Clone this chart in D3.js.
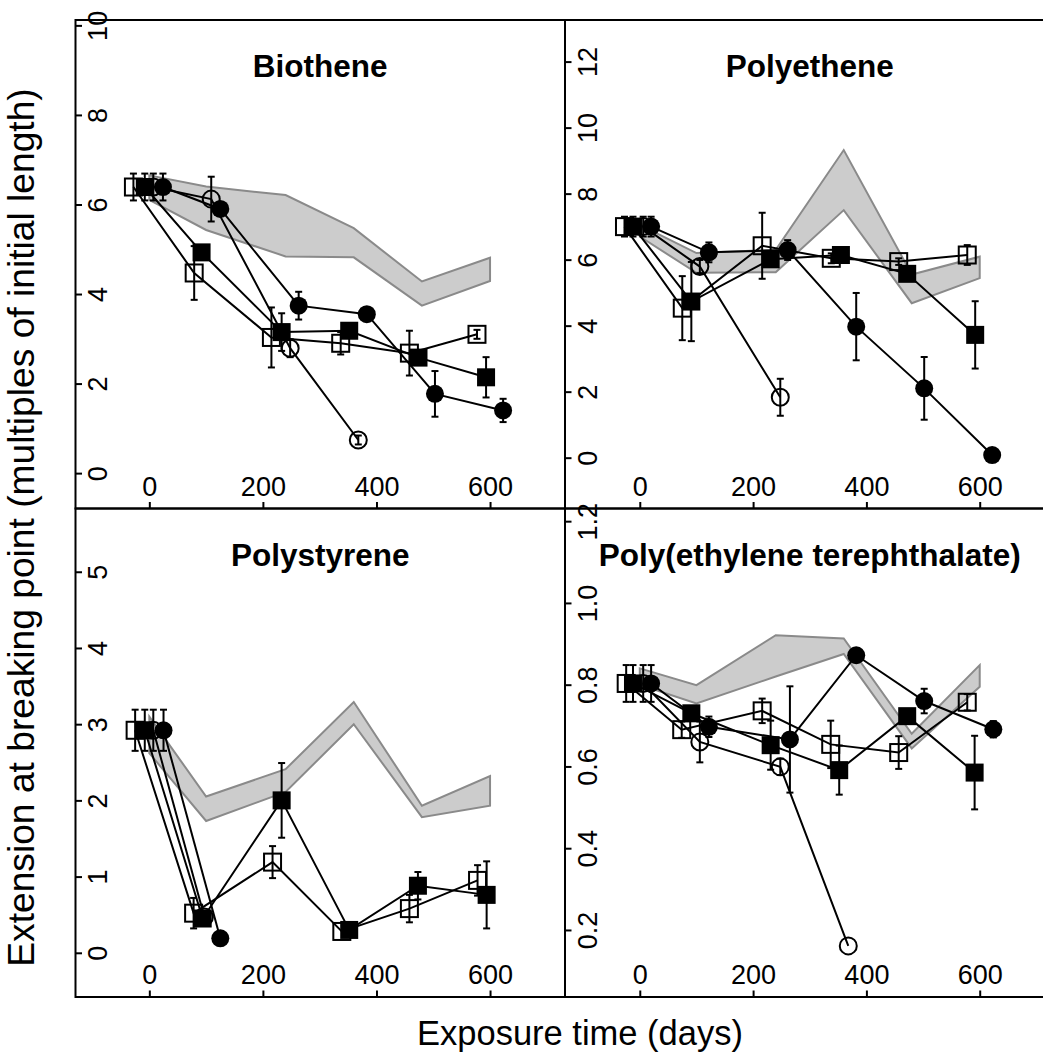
<!DOCTYPE html>
<html><head><meta charset="utf-8">
<script src="https://cdn.jsdelivr.net/npm/d3@7"></script>
<style>
body{margin:0;background:#fff;}
svg{display:block;font-family:"Liberation Sans",Arial,Helvetica,sans-serif;}
</style>
</head><body><svg id="c" width="1043" height="1062"></svg>
<script>
// ---------- data ----------
const panelTitles = ["Biothene", "Polyethene", "Polystyrene", "Poly(ethylene terephthalate)"];
const xTicks = [0, 200, 400, 600];
const bandTimes = [0, 100, 240, 360, 480, 600];
const seriesMarkers = ["openSquare", "filledSquare", "openCircle", "filledCircle"];

// each point: [exposure time (days), value, error half-width]
const bioOpenSquare   = [[-28,6.39,0.3],[79,4.47,0.6],[215,3.03,0.67],[337,2.90,0.25],[458,2.68,0.5],[577,3.10,0.1]];
const bioFilledSquare = [[-8,6.39,0.3],[92,4.93,0],[233,3.15,0.42],[352,3.18,0],[474,2.58,0],[593,2.14,0.45]];
const bioOpenCircle   = [[7,6.39,0.3],[109,6.12,0.5],[248,2.79,0.2],[368,0.74,0.1]];
const bioFilledCircle = [[24,6.39,0.3],[125,5.90,0],[263,3.74,0.31],[383,3.55,0],[503,1.77,0.51],[623,1.40,0.26]];
const bioBandUpper = [6.65,6.40,6.21,5.47,4.28,4.81];
const bioBandLower = [6.10,5.43,4.84,4.82,3.74,4.29];
const bioYTicks = [0,2,4,6,8,10];

const peOpenSquare   = [[-27,7.0,0.3],[75,4.53,0.97],[216,6.42,1.0],[338,6.04,0.15],[457,5.94,0.1],[578,6.14,0.3]];
const peFilledSquare = [[-12,7.0,0.3],[91,4.73,1.2],[231,6.01,0],[355,6.14,0.1],[472,5.57,0.2],[592,3.72,1.02]];
const peOpenCircle   = [[6,7.0,0.3],[106,5.79,0.2],[248,1.83,0.56]];
const peFilledCircle = [[20,7.0,0.3],[122,6.22,0.3],[261,6.29,0.3],[382,3.97,1.02],[502,2.10,0.95],[622,0.08,0]];
const peBandUpper = [7.05,6.20,6.30,9.32,5.55,6.09];
const peBandLower = [6.70,5.60,5.62,7.50,4.68,5.44];
const peYTicks = [0,2,4,6,8,10,12];

const psOpenSquare   = [[-25,2.92,0.27],[78,0.52,0.2],[217,1.19,0.21],[339,0.28,0],[458,0.58,0.18],[578,0.95,0.2]];
const psFilledSquare = [[-8,2.92,0.27],[94,0.45,0],[233,2.00,0.49],[352,0.30,0],[473,0.88,0.18],[594,0.76,0.44]];
const psOpenCircle   = [[7,2.92,0.27],[97,0.47,0]];
const psFilledCircle = [[25,2.92,0.27],[125,0.19,0]];
const psBandUpper = [3.10,2.05,2.41,3.29,1.93,2.32];
const psBandLower = [2.62,1.73,2.11,3.00,1.78,1.93];
const psYTicks = [0,1,2,3,4,5];

const petOpenSquare   = [[-24,0.803,0.045],[74,0.690,0.02],[216,0.736,0.03],[337,0.654,0.058],[457,0.634,0.04],[578,0.757,0.02]];
const petFilledSquare = [[-12,0.803,0.045],[91,0.730,0],[231,0.652,0.06],[352,0.591,0.06],[472,0.723,0],[591,0.585,0.09]];
const petOpenCircle   = [[6,0.803,0.045],[106,0.660,0.05],[248,0.599,0.02],[368,0.161,0]];
const petFilledCircle = [[20,0.803,0.045],[122,0.697,0.025],[265,0.666,0.13],[382,0.872,0],[502,0.760,0.03],[624,0.691,0.02]];
const petBandUpper = [0.840,0.799,0.921,0.913,0.680,0.848];
const petBandLower = [0.800,0.754,0.820,0.875,0.644,0.795];
const petYTicks = [0.2,0.4,0.6,0.8,1.0,1.2];

const xTitle = "Exposure time (days)";
const yTitle = "Extension at breaking point (multiples of initial length)";

// ---------- layout ----------
const L = 75.5, M = 565, R = 1054.5, T = 20, H = 508.5, B = 997;
const panels = [
  {title: panelTitles[0], series: [bioOpenSquare, bioFilledSquare, bioOpenCircle, bioFilledCircle],
   upper: bioBandUpper, lower: bioBandLower, yTicks: bioYTicks, fmt: d3.format("d"),
   x0: L, x1: M, y0: T, y1: H, xDomain: [-130, 732], yDomain: [-0.79, 10.12]},
  {title: panelTitles[1], series: [peOpenSquare, peFilledSquare, peOpenCircle, peFilledCircle],
   upper: peBandUpper, lower: peBandLower, yTicks: peYTicks, fmt: d3.format("d"),
   x0: M, x1: R, y0: T, y1: H, xDomain: [-132, 732], yDomain: [-1.54, 13.26]},
  {title: panelTitles[2], series: [psOpenSquare, psFilledSquare, psOpenCircle, psFilledCircle],
   upper: psBandUpper, lower: psBandLower, yTicks: psYTicks, fmt: d3.format("d"),
   x0: L, x1: M, y0: H, y1: B, xDomain: [-130, 732], yDomain: [-0.58, 5.83]},
  {title: panelTitles[3], series: [petOpenSquare, petFilledSquare, petOpenCircle, petFilledCircle],
   upper: petBandUpper, lower: petBandLower, yTicks: petYTicks, fmt: d3.format(".1f"),
   x0: M, x1: R, y0: H, y1: B, xDomain: [-132, 732], yDomain: [0.036, 1.231]}
];

const svg = d3.select("#c");
svg.append("rect").attr("width",1043).attr("height",1062).attr("fill","#fff");

const TICK_FONT = 27, TITLE_FONT = 31.5, AXIS_TITLE_FONT = 34.5, Y_TITLE_FONT = 37.2;

function drawMarker(g, type, cx, cy) {
  if (type === "openSquare") {
    g.append("rect").attr("x", cx-8.5).attr("y", cy-8.5).attr("width",17).attr("height",17)
      .attr("fill","none").attr("stroke","#000").attr("stroke-width",2);
  } else if (type === "filledSquare") {
    g.append("rect").attr("x", cx-9).attr("y", cy-9).attr("width",18).attr("height",18).attr("fill","#000");
  } else if (type === "openCircle") {
    g.append("circle").attr("cx",cx).attr("cy",cy).attr("r",8.5)
      .attr("fill","none").attr("stroke","#000").attr("stroke-width",2);
  } else {
    g.append("circle").attr("cx",cx).attr("cy",cy).attr("r",9).attr("fill","#000");
  }
}

panels.forEach(p => {
  const g = svg.append("g");
  const x = d3.scaleLinear().domain(p.xDomain).range([p.x0, p.x1]);
  const y = d3.scaleLinear().domain(p.yDomain).range([p.y1, p.y0]);

  // grey band
  const area = d3.area()
    .x((d,i) => x(bandTimes[i]))
    .y0((d,i) => y(p.lower[i]))
    .y1((d,i) => y(p.upper[i]));
  g.append("path").datum(p.upper).attr("d", area)
    .attr("fill","#cccccc").attr("stroke","#8a8a8a").attr("stroke-width",2).attr("stroke-linejoin","miter");

  // series
  const line = d3.line().x(d => x(d[0])).y(d => y(d[1]));
  p.series.forEach((s, si) => {
    const sg = g.append("g");
    sg.append("path").datum(s).attr("d", line).attr("fill","none").attr("stroke","#000").attr("stroke-width",2);
    s.filter(d => d[2] > 0).forEach(d => {
      const cx = x(d[0]), ya = y(d[1]+d[2]), yb = y(d[1]-d[2]);
      sg.append("line").attr("x1",cx).attr("x2",cx).attr("y1",ya).attr("y2",yb).attr("stroke","#000").attr("stroke-width",2);
      sg.append("line").attr("x1",cx-3.5).attr("x2",cx+3.5).attr("y1",ya).attr("y2",ya).attr("stroke","#000").attr("stroke-width",2);
      sg.append("line").attr("x1",cx-3.5).attr("x2",cx+3.5).attr("y1",yb).attr("y2",yb).attr("stroke","#000").attr("stroke-width",2);
    });
    s.forEach(d => drawMarker(sg, seriesMarkers[si], x(d[0]), y(d[1])));
  });

  // box
  g.append("rect").attr("x",p.x0).attr("y",p.y0).attr("width",p.x1-p.x0).attr("height",p.y1-p.y0)
    .attr("fill","none").attr("stroke","#000").attr("stroke-width",2);

  // y axis (ticks inward, labels inside, rotated)
  const ya = g.append("g").attr("transform",`translate(${p.x0},0)`)
    .call(d3.axisLeft(y).tickValues(p.yTicks).tickFormat(p.fmt).tickSize(-6.5));
  ya.select(".domain").remove();
  ya.selectAll(".tick line").attr("stroke","#000").attr("stroke-width",2);
  ya.selectAll(".tick text").attr("x",null).attr("dy",null)
    .attr("transform","translate(22.5,0) rotate(-90)")
    .attr("text-anchor","middle").attr("dominant-baseline","central")
    .attr("font-size",TICK_FONT).attr("font-family",null).attr("fill","#000");

  // x axis
  const xa = g.append("g").attr("transform",`translate(0,${p.y1})`)
    .call(d3.axisBottom(x).tickValues(xTicks).tickFormat(d3.format("d")).tickSize(-6.5));
  xa.select(".domain").remove();
  xa.selectAll(".tick line").attr("stroke","#000").attr("stroke-width",2);
  xa.selectAll(".tick text").attr("y",-22).attr("dy",null)
    .attr("dominant-baseline","central").attr("text-anchor","middle")
    .attr("font-size",TICK_FONT).attr("font-family",null).attr("fill","#000");

  // title
  g.append("text").attr("x",(p.x0+p.x1)/2).attr("y",p.y0+57)
    .attr("text-anchor","middle").attr("font-weight","bold").attr("font-size",TITLE_FONT).text(p.title);
});

svg.append("text").attr("x",580).attr("y",1045).attr("text-anchor","middle")
  .attr("font-size",AXIS_TITLE_FONT).text(xTitle);
svg.append("text").attr("transform","translate(34,527.5) rotate(-90)").attr("text-anchor","middle")
  .attr("font-size",Y_TITLE_FONT).text(yTitle);
</script>
</body></html>
